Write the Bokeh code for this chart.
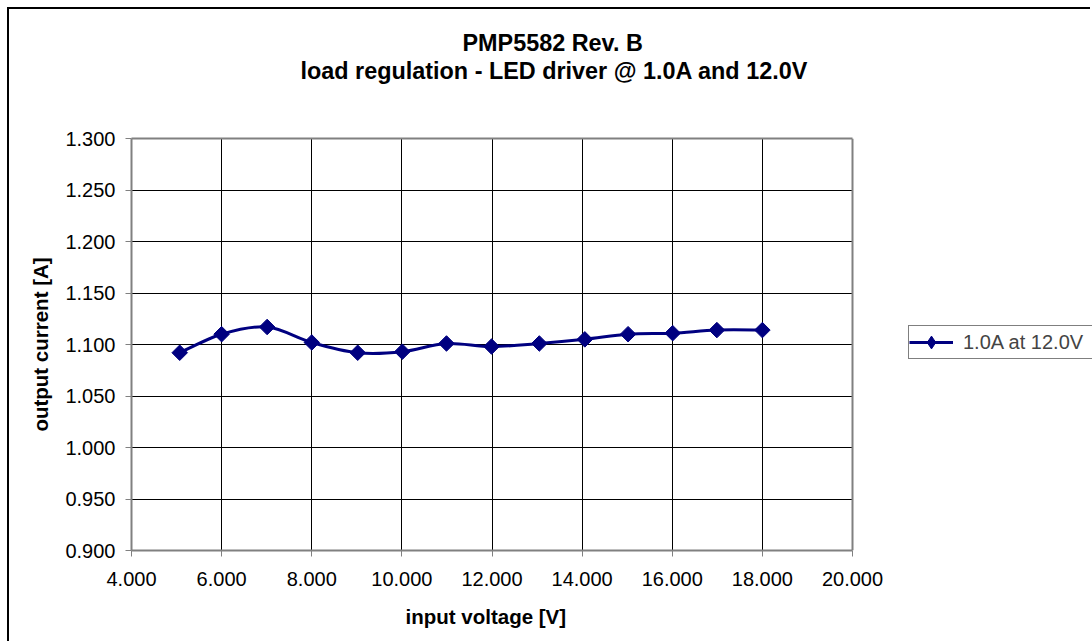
import numpy as np
from bokeh.plotting import figure
from bokeh.models import (Range1d, FixedTicker, PrintfTickFormatter, Title, Span, LinearAxis,
                          BoxAnnotation, Legend, LegendItem, ColumnDataSource)
from bokeh.embed import file_html
from bokeh.resources import INLINE

# ---- data ----
input_voltage = [5.07, 6.00, 7.01, 8.00, 9.02, 10.01, 10.99, 11.99, 13.05, 14.06, 15.02, 16.01, 16.99, 18.00]
output_current = [1.092, 1.110, 1.117, 1.102, 1.092, 1.093, 1.101, 1.098, 1.101, 1.105, 1.110, 1.111, 1.114, 1.114]
series_name = "1.0A at 12.0V"
x_ticks = [4, 6, 8, 10, 12, 14, 16, 18, 20]
y_ticks = [0.90, 0.95, 1.00, 1.05, 1.10, 1.15, 1.20, 1.25, 1.30]
title_line1 = "PMP5582 Rev. B"
title_line2 = "load regulation - LED driver @ 1.0A and 12.0V"
x_label = "input voltage [V]"
y_label = "output current [A]"

FONT = "Liberation Sans"
NAVY = "#000080"
GRAY = "#808080"

x_lo, x_hi = x_ticks[0], x_ticks[-1]
y_lo, y_hi = y_ticks[0], y_ticks[-1]
# the frame runs on to the right edge of the picture so the legend can sit beside the plot area;
# the plot area itself (axis, grid, border) is limited to x_lo..x_hi
PLOT_W = 721.0      # px between x_lo and x_hi
EXTRA_W = 240.0     # px right of x_hi (legend zone)
x_end = x_hi + (x_hi - x_lo) * EXTRA_W / PLOT_W

p = figure(width=1083, height=634, output_backend="svg", toolbar_location=None,
           x_range=Range1d(x_lo, x_end), y_range=Range1d(y_lo, y_hi),
           min_border_left=122, min_border_right=0, min_border_top=129, min_border_bottom=93)
p.styles = {"margin-left": "7px", "margin-top": "7px",
            "border-left": "2px solid black", "border-top": "2px solid black"}
p.background_fill_color = "white"
p.border_fill_color = "white"
p.outline_line_color = None

x_axis = p.xaxis[0]
y_axis = p.yaxis[0]

# inner grid lines (black)
p.xgrid.ticker = FixedTicker(ticks=x_ticks[1:-1])
p.ygrid.ticker = FixedTicker(ticks=y_ticks[1:-1])
for g in (p.xgrid, p.ygrid):
    g.grid_line_color = "black"
    g.grid_line_width = 1

# blank out everything right of the plot area (legend zone)
p.add_layout(BoxAnnotation(left=x_hi, fill_color="white", fill_alpha=1, line_color=None,
                           level="underlay"))
# gray right border of the plot area
p.add_layout(Span(location=x_hi, dimension="height", line_color=GRAY, line_width=2, level="underlay"))

# axes
for ax, ticks in ((x_axis, x_ticks), (y_axis, y_ticks)):
    ax.ticker = FixedTicker(ticks=ticks)
    ax.formatter = PrintfTickFormatter(format="%.3f")
    ax.axis_line_color = GRAY
    ax.axis_line_width = 2
    ax.major_tick_line_color = GRAY
    ax.major_tick_line_width = 1
    ax.major_tick_out = 6
    ax.major_tick_in = 0
    ax.minor_tick_line_color = None
    ax.major_label_text_font = FONT
    ax.major_label_text_font_size = "20px"
    ax.major_label_text_color = "black"
    ax.axis_label_text_font = FONT
    ax.axis_label_text_font_size = "20.5px"
    ax.axis_label_text_font_style = "bold"
    ax.axis_label_text_color = "black"
x_axis.bounds = (x_lo, x_hi)
x_axis.major_label_standoff = 15
y_axis.major_label_standoff = 10
y_axis.axis_label = y_label
y_axis.axis_label_standoff = 10

# gray top border of the plot area: a bare axis line above the frame, bounded to x_lo..x_hi
top_border = LinearAxis(ticker=FixedTicker(ticks=[]), bounds=(x_lo, x_hi),
                        axis_line_color=GRAY, axis_line_width=2,
                        major_tick_out=0, major_tick_in=0, minor_tick_out=0, minor_tick_in=0,
                        minor_tick_line_color=None, major_tick_line_color=None,
                        major_label_standoff=0)
p.add_layout(top_border, "above")

# x-axis title, under the axis (left aligned with an offset so it centres on the plot area)
p.add_layout(Title(text=x_label, align="left", offset=274, standoff=28,
                   text_font=FONT, text_font_size="20.5px", text_font_style="bold",
                   text_color="black"), "below")

# smooth curve (Catmull-Rom -> cubic Bezier, control points derived from data)
xs = np.array(input_voltage, dtype=float)
ys = np.array(output_current, dtype=float)
n = len(xs)
i0 = np.arange(n - 1)
im = np.maximum(i0 - 1, 0)
ip = i0 + 1
ip2 = np.minimum(i0 + 2, n - 1)
seg = ColumnDataSource(dict(
    x0=xs[i0], y0=ys[i0], x1=xs[ip], y1=ys[ip],
    cx0=xs[i0] + (xs[ip] - xs[im]) / 6.0, cy0=ys[i0] + (ys[ip] - ys[im]) / 6.0,
    cx1=xs[ip] - (xs[ip2] - xs[i0]) / 6.0, cy1=ys[ip] - (ys[ip2] - ys[i0]) / 6.0,
))
p.bezier(x0="x0", y0="y0", x1="x1", y1="y1", cx0="cx0", cy0="cy0", cx1="cx1", cy1="cy1",
         source=seg, line_color=NAVY, line_width=3)

pts = p.scatter(x=input_voltage, y=output_current, marker="square", angle=np.pi / 4,
                size=11, fill_color=NAVY, line_color=NAVY)

# renderers that only supply the legend's glyph (a single point: nothing visible in the plot)
legend_line = p.line(x=input_voltage[:1], y=output_current[:1], line_color=NAVY, line_width=3)
legend_mark = p.scatter(x=input_voltage[:1], y=output_current[:1], marker="diamond", size=1,
                        fill_color=NAVY, line_color=NAVY)

legend = Legend(items=[LegendItem(label=series_name, renderers=[legend_line, legend_mark])],
                location=(777, 191), margin=0, padding=0,
                border_line_color="black", border_line_width=1,
                glyph_width=44, glyph_height=32, label_standoff=10, label_width=130,
                label_text_font=FONT, label_text_font_size="20px",
                background_fill_color="white", background_fill_alpha=1)
p.add_layout(legend, "center")

# titles (first added sits closest to the plot)
p.add_layout(Title(text=" ", text_font_size="10px", standoff=42), "above")
p.add_layout(Title(text=title_line2, align="left", offset=169, standoff=0,
                   text_font=FONT, text_font_size="23.4px", text_font_style="bold",
                   text_color="black"), "above")
p.add_layout(Title(text=title_line1, align="left", offset=331, standoff=0,
                   text_font=FONT, text_font_size="23.4px", text_font_style="bold",
                   text_color="black"), "above")

open("out.html", "w").write(file_html(p, INLINE))
